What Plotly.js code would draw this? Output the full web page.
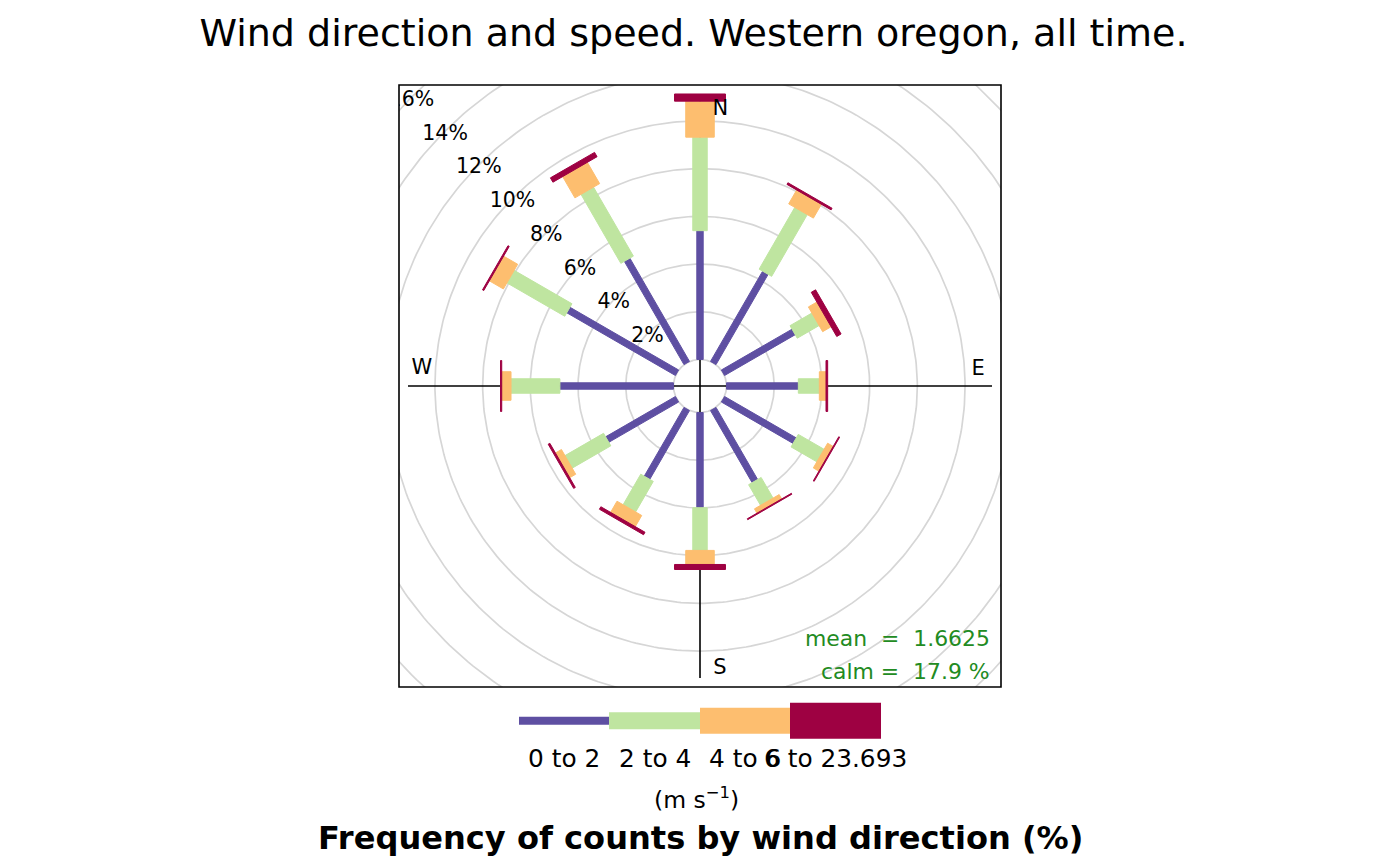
<!DOCTYPE html>
<html><head><meta charset="utf-8">
<script src="https://cdn.plot.ly/plotly-3.0.1.min.js"></script>
<style>html,body{margin:0;padding:0;background:#fff}</style>
</head><body>
<div id="chart" style="width:1400px;height:865px"></div>
<script>
// ---- data ----
const directions = [0, 30, 60, 90, 120, 150, 180, 210, 240, 270, 300, 330];
const speedBins = ["0 to 2", "2 to 4", "4 to 6", "6 to 23.693"];
const freq0to2  = [5.40, 4.37, 3.42, 3.01, 3.47, 3.49, 3.99, 3.33, 3.38, 4.76, 5.26, 5.00];
const freq2to4  = [3.92, 2.99, 1.06, 0.88, 1.25, 1.00, 1.79, 1.48, 1.87, 2.05, 2.80, 3.34];
const freq4to6  = [1.51, 0.67, 0.41, 0.28, 0.27, 0.21, 0.59, 0.54, 0.29, 0.39, 0.68, 1.03];
const freq6plus = [0.30, 0.08, 0.21, 0.07, 0.04, 0.04, 0.21, 0.12, 0.08, 0.05, 0.06, 0.21];
const gridTicks = [2, 4, 6, 8, 10, 12, 14, 16, 18];
const meanSpeed = "1.6625";
const calmPct = "17.9";
const compassLabels = ["N", "E", "S", "W"];
const mainTitle = "Wind direction and speed. Western oregon, all time.";
const xLabel = "Frequency of counts by wind direction (%)";
const unitsLabel = "(m s<sup>\u22121</sup>)";

// ---- styles / layout constants ----
const colours = ["#5E4FA2", "#BFE5A0", "#FDBE6F", "#9E0142"];
const FONT = "DejaVu Sans, Verdana, sans-serif";
const W = 1400, H = 865;
const PL = 399, PR = 1001, PT = 85, PB = 687;   // panel box in px
const axisHalf = 12.62;                           // data units from centre to panel edge
const pxUnit = (PR - PL) / (2 * axisHalf);        // px per data unit
const px2x = p => (p - PL) / (PR - PL);
const py2y = p => (PB - p) / (PB - PT);

const series = [freq0to2, freq2to4, freq4to6, freq6plus];
const cum = directions.map((d, i) => {
  let s = 0; return series.map(ser => (s += ser[i]));
});
const maxFreq = Math.max(...cum.map(c => c[c.length - 1]));
const offSet = maxFreq * 0.10;
const a = Math.pow(0.002, 0.25), b = Math.pow(0.016, 0.25);
const boxWidths = speedBins.map((_, j) =>
  Math.pow(a + (b - a) * j / (speedBins.length - 1), 4) * maxFreq * 30 / 5);

const traces = [];
// grid circles
const circ = [0].concat(gridTicks);
circ.forEach(t => {
  const r = t + offSet, xs = [], ys = [];
  for (let k = 0; k <= 360; k++) {
    const th = k * Math.PI / 180; xs.push(r * Math.sin(th)); ys.push(r * Math.cos(th));
  }
  traces.push({type: "scatter", mode: "lines", x: xs, y: ys, hoverinfo: "skip",
    line: {color: "#D6D6D6", width: 1.7}, showlegend: false});
});
// axis cross lines
const L = maxFreq + offSet;
traces.push({type: "scatter", mode: "lines", x: [-L, L], y: [0, 0], hoverinfo: "skip",
  line: {color: "#000", width: 1.6}, showlegend: false});
traces.push({type: "scatter", mode: "lines", x: [0, 0], y: [-L, L], hoverinfo: "skip",
  line: {color: "#000", width: 1.6}, showlegend: false});

// bars (openair style polygons)
directions.forEach((wd, i) => {
  const th = wd * Math.PI / 180, s = Math.sin(th), c = Math.cos(th);
  speedBins.forEach((bin, j) => {
    const len1 = (j === 0 ? 0 : cum[i][j - 1]) + offSet;
    const len2 = cum[i][j] + offSet;
    const w = boxWidths[j];
    const x1 = len1 * s - w * c, x2 = len1 * s + w * c;
    const x3 = len2 * s - w * c, x4 = len2 * s + w * c;
    const y1 = len1 * c + w * s, y2 = len1 * c - w * s;
    const y3 = len2 * c + w * s, y4 = len2 * c - w * s;
    traces.push({type: "scatter", mode: "lines", fill: "toself", fillcolor: colours[j],
      x: [x1, x2, x4, x3, x1], y: [y1, y2, y4, y3, y1], hoverinfo: "skip",
      line: {color: colours[j], width: 1}, showlegend: false});
  });
});

// ring labels along 315 degrees (nudged down ~3.5 px to match text centring)
const ang = 315 * Math.PI / 180;
const textNudge = 3.5 / pxUnit;
traces.push({type: "scatter", mode: "text", cliponaxis: true, hoverinfo: "skip",
  x: gridTicks.map(t => (t + offSet) * Math.sin(ang)),
  y: gridTicks.map(t => (t + offSet) * Math.cos(ang) - textNudge),
  text: gridTicks.map(t => t + "%"), textposition: "middle center",
  textfont: {family: FONT, size: 20.5, color: "#000"}, showlegend: false});

// compass labels
const compassPos = [[0.85, 11.69], [11.66, 0.78], [0.84, -11.73], [-11.66, 0.82]];
traces.push({type: "scatter", mode: "text", cliponaxis: true, hoverinfo: "skip",
  x: compassPos.map(p => p[0]), y: compassPos.map(p => p[1] - 2.5 / pxUnit),
  text: compassLabels, textposition: "middle center",
  textfont: {family: FONT, size: 21, color: "#000"}, showlegend: false});

// legend key
const keyX = [519, 609, 700, 790, 881];
const keyH = [8, 17, 26, 36];
const keyCY = 720.7;
const shapes = [{type: "rect", xref: "paper", yref: "paper", x0: 0, x1: 1, y0: 0, y1: 1,
  line: {color: "#000", width: 1.6}, fillcolor: "rgba(0,0,0,0)"}];
speedBins.forEach((bin, j) => {
  shapes.push({type: "rect", xref: "paper", yref: "paper",
    x0: px2x(keyX[j]), x1: px2x(keyX[j + 1]),
    y0: py2y(keyCY + keyH[j] / 2), y1: py2y(keyCY - keyH[j] / 2),
    fillcolor: colours[j], line: {width: 0}});
});

const annotations = [];
speedBins.forEach((bin, j) => {
  annotations.push({xref: "paper", yref: "paper", x: px2x((keyX[j] + keyX[j + 1]) / 2),
    y: py2y(759), text: bin, showarrow: false, xanchor: "center", yanchor: "middle",
    font: {family: FONT, size: 24.8, color: "#000"}});
});
annotations.push({xref: "paper", yref: "paper", x: px2x(696), y: py2y(798),
  text: unitsLabel, showarrow: false, xanchor: "center", yanchor: "middle",
  font: {family: FONT, size: 23.5, color: "#000"}});
annotations.push({xref: "paper", yref: "paper", x: px2x(700.5), y: py2y(838),
  text: "<b>" + xLabel + "</b>", showarrow: false, xanchor: "center", yanchor: "middle",
  font: {family: FONT, size: 32.1, color: "#000"}});
annotations.push({xref: "paper", yref: "paper", x: px2x(992), y: py2y(638),
  text: "mean\u00A0\u00A0=\u00A0\u00A0" + meanSpeed, showarrow: false, xanchor: "right", yanchor: "middle",
  font: {family: FONT, size: 21.9, color: "#228B22"}});
annotations.push({xref: "paper", yref: "paper", x: px2x(992), y: py2y(671),
  text: "calm\u00A0=\u00A0\u00A0" + calmPct + "\u00A0%", showarrow: false, xanchor: "right", yanchor: "middle",
  font: {family: FONT, size: 21.9, color: "#228B22"}});

const ax = {range: [-axisHalf, axisHalf], showgrid: false, zeroline: false,
  showticklabels: false, ticks: "", showline: false, fixedrange: true};

const layout = {
  width: W, height: H, autosize: false,
  margin: {l: PL, r: W - PR, t: PT, b: H - PB, pad: 0},
  paper_bgcolor: "#fff", plot_bgcolor: "#fff",
  title: {text: mainTitle, xref: "container", yref: "container",
    x: 693.5 / W, xanchor: "center", y: 1 - 33 / H, yanchor: "middle",
    font: {family: FONT, size: 38, color: "#000"}},
  xaxis: ax, yaxis: Object.assign({}, ax),
  shapes: shapes, annotations: annotations, showlegend: false, hovermode: false
};

Plotly.newPlot("chart", traces, layout, {displayModeBar: false, staticPlot: true});
</script>
</body></html>
